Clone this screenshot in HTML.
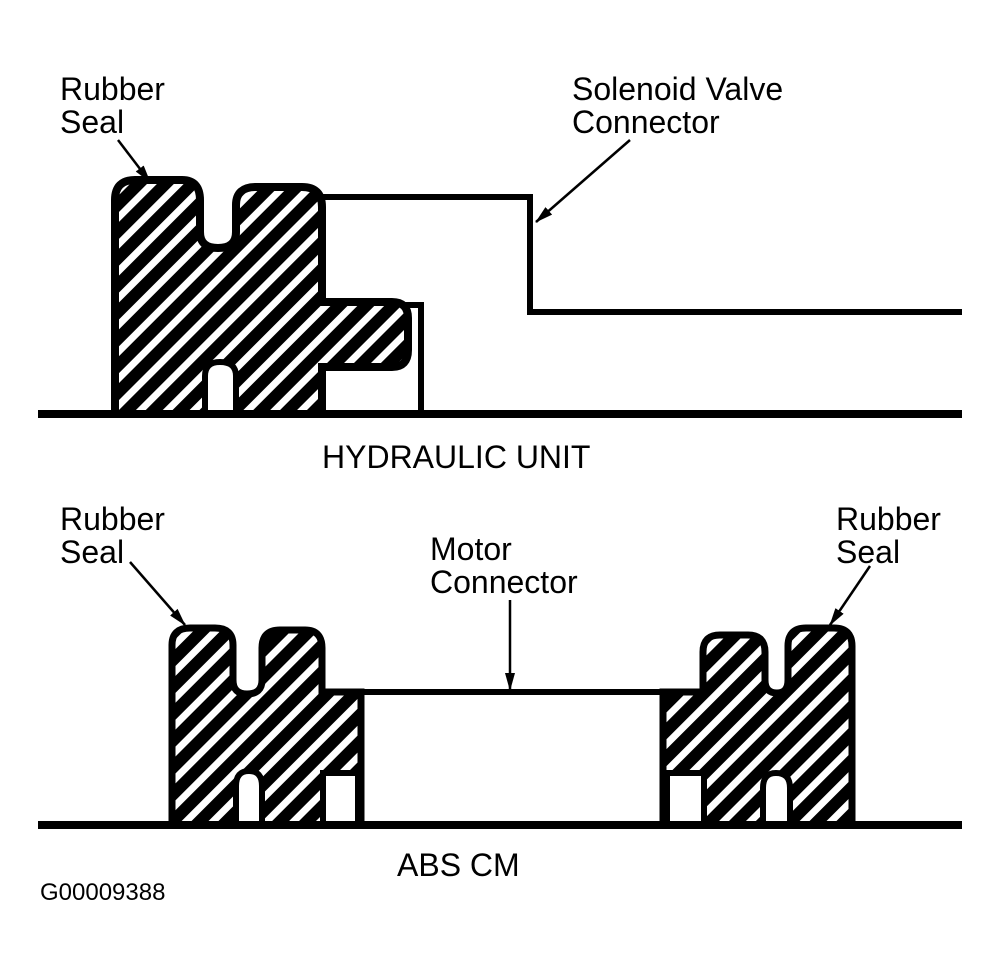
<!DOCTYPE html>
<html><head><meta charset="utf-8"><style>
html,body{margin:0;padding:0;background:#fff;}
svg{display:block;}
text{font-family:"Liberation Sans",Arial,sans-serif;fill:#000;}
</style></head><body>
<svg width="999" height="976" viewBox="0 0 999 976" xmlns="http://www.w3.org/2000/svg">
<defs>
<pattern id="h" width="19" height="19" patternUnits="userSpaceOnUse" patternTransform="rotate(-45)">
<rect width="19" height="19" fill="#000"/>
<rect x="0" y="6" width="19" height="7" fill="#fff"/>
</pattern>
<marker id="a" markerWidth="18" markerHeight="12" refX="17" refY="6" orient="auto" markerUnits="userSpaceOnUse">
<path d="M0,1 L18,6 L0,11 Z" fill="#000"/>
</marker>
</defs>

<g stroke="#000" stroke-width="6" fill="none">
<polyline points="322,197 530,197 530,312 962,312"/>
<polyline points="405,305 421,305 421,414"/>
</g>
<path d="M115,414 V200 Q115,180 135,180 H182 Q200,180 200,200 V232 Q200,248 218,248 Q236,248 236,232 V205 Q236,187 256,187 H302 Q322,187 322,207 V302 H392 Q408,302 408,318 V350 Q408,367 392,367 H322 V414 Z" fill="url(#h)" stroke="#000" stroke-width="8"/>
<path d="M205,414 V376 Q205,362 220,362 Q236,362 236,376 V414 Z" fill="#fff" stroke="#000" stroke-width="6"/>
<rect x="38" y="410" width="924" height="8" fill="#000"/>

<polyline points="322,692 663,692" stroke="#000" stroke-width="6" fill="none"/>
<path d="M172,825 V645 Q172,628 190,628 H215 Q233,628 233,645 V680 Q233,694 247,694 Q262,694 262,680 V648 Q262,630 280,630 H305 Q322,630 322,648 V692 H361 V825 Z" fill="url(#h)" stroke="#000" stroke-width="7"/>
<path d="M236,825 V786 Q236,771 249,771 Q262,771 262,786 V825 Z" fill="#fff" stroke="#000" stroke-width="6"/>
<rect x="323" y="773" width="35" height="52" fill="#fff" stroke="#000" stroke-width="6"/>

<path d="M663,825 V692 H703 V652 Q703,635 720,635 H748 Q765,635 765,652 V680 Q765,693 777,693 Q788,693 788,680 V646 Q788,628 806,628 H834 Q852,628 852,646 V825 Z" fill="url(#h)" stroke="#000" stroke-width="7"/>
<path d="M763,825 V788 Q763,773 776,773 Q790,773 790,788 V825 Z" fill="#fff" stroke="#000" stroke-width="6"/>
<rect x="667" y="773" width="37" height="52" fill="#fff" stroke="#000" stroke-width="6"/>
<rect x="38" y="821" width="924" height="8" fill="#000"/>

<g stroke="#000" stroke-width="2.5" marker-end="url(#a)">
<line x1="118" y1="140" x2="150" y2="182"/>
<line x1="630" y1="140" x2="536" y2="222"/>
<line x1="510" y1="600" x2="510" y2="690"/>
<line x1="130" y1="562" x2="185" y2="625"/>
<line x1="870" y1="566" x2="830" y2="625"/>
</g>

<g font-size="32">
<text x="60" y="100">Rubber</text>
<text x="60" y="133">Seal</text>
<text x="572" y="100">Solenoid Valve</text>
<text x="572" y="133">Connector</text>
<text x="322" y="468">HYDRAULIC UNIT</text>
<text x="60" y="530">Rubber</text>
<text x="60" y="563">Seal</text>
<text x="430" y="560">Motor</text>
<text x="430" y="593">Connector</text>
<text x="836" y="530">Rubber</text>
<text x="836" y="563">Seal</text>
<text x="397" y="876">ABS CM</text>
</g>
<text x="40" y="900" font-size="24">G00009388</text>
</svg>
</body></html>
